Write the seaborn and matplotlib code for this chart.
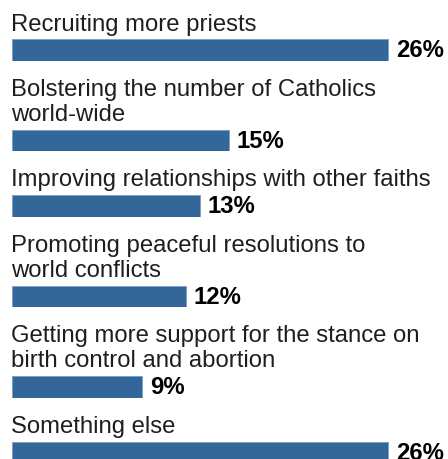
import matplotlib
matplotlib.use("Agg")
import matplotlib.pyplot as plt
import seaborn as sns
import pandas as pd

# ---- data ----
categories = [
    "Recruiting more priests",
    "Bolstering the number of Catholics\nworld-wide",
    "Improving relationships with other faiths",
    "Promoting peaceful resolutions to\nworld conflicts",
    "Getting more support for the stance on\nbirth control and abortion",
    "Something else",
]
values = [26, 15, 13, 12, 9, 26]
value_labels = [f"{v}%" for v in values]

# ---- layout / style ----
W, H, DPI = 448, 460, 100
BAR_COLOR = "#336699"
EDGE_COLOR = "#7fa1c4"
TEXT_COLOR = "#1e1e1e"
BAR_LEFT = 12          # px
PX_PER_UNIT = 14.48    # px per percentage point
BAR_H = 21.5           # px
FIRST_TOP = 40         # px
GAP = 44               # px between bar bottom and next bar top (1-line label)
LINE = 25              # px line spacing of labels
TEXT_X = 11
BASE_OFF = 9.5
FONT = 17.2

sns.set_theme(style="white")
plt.rcParams["font.family"] = ["Liberation Sans", "DejaVu Sans"]

fig = plt.figure(figsize=(W / DPI, H / DPI), dpi=DPI)
fig.patch.set_facecolor("white")

overlay = fig.add_axes([0, 0, 1, 1])
overlay.set_xlim(0, W)
overlay.set_ylim(H, 0)
overlay.axis("off")

df = pd.DataFrame({"category": categories, "value": values, "label": value_labels})

top = FIRST_TOP
prev_bottom = None
for i, row in df.iterrows():
    lines = row["category"].split("\n")
    if prev_bottom is not None:
        top = prev_bottom + GAP + LINE * (len(lines) - 1)
    # label lines
    for k, ln in enumerate(lines):
        y = top - BASE_OFF - LINE * (len(lines) - 1 - k)
        overlay.text(TEXT_X, y, ln, ha="left", va="baseline",
                     fontsize=FONT, color=TEXT_COLOR)
    # bar axes
    ax = fig.add_axes([BAR_LEFT / W, (H - top - BAR_H) / H,
                       (W - BAR_LEFT) / W, BAR_H / H])
    sns.barplot(data=df.iloc[[i]], x="value", y="category", orient="h",
                color=BAR_COLOR, saturation=1, width=1.0, ax=ax,
                edgecolor=EDGE_COLOR, linewidth=0.7)
    ax.set_xlim(0, (W - BAR_LEFT) / PX_PER_UNIT)
    ax.set_ylim(0.5, -0.5)
    ax.bar_label(ax.containers[0], labels=[row["label"]], padding=5.5,
                 fontsize=FONT, fontweight="bold", color="black",
                 clip_on=False)
    ax.axis("off")
    prev_bottom = top + BAR_H

fig.savefig("out.png", dpi=DPI, facecolor="white")
